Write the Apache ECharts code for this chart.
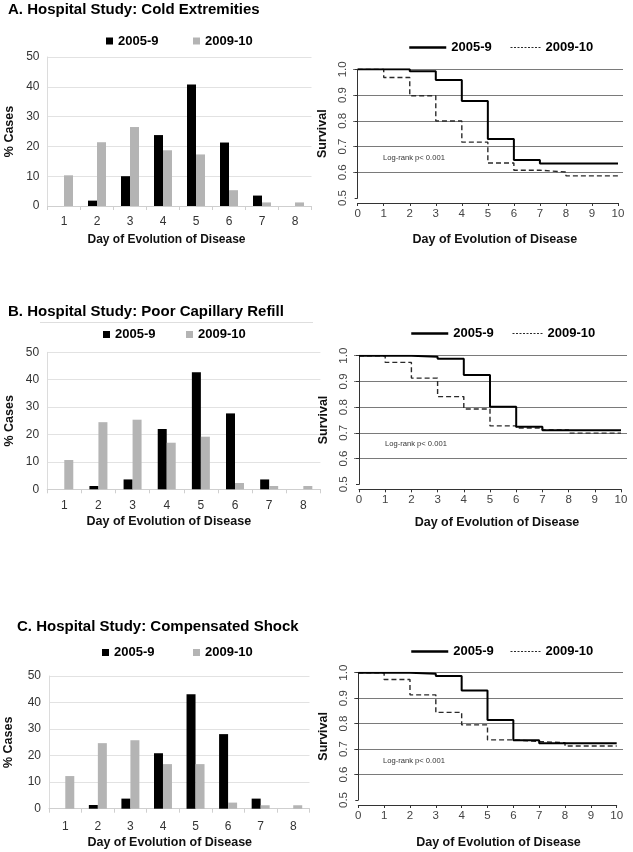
<!DOCTYPE html>
<html>
<head>
<meta charset="utf-8">
<script src="https://cdn.jsdelivr.net/npm/echarts@6/dist/echarts.min.js"></script>
<style>
  html, body { margin: 0; padding: 0; background: #fff; }
  #main { width: 633px; height: 852px; }
</style>
</head>
<body>
<div id="main"></div>
<script>
// bar charts: % cases per day of evolution
const days = ['1', '2', '3', '4', '5', '6', '7', '8']
const coldOld = [0, 1.8, 10.0, 23.8, 40.8, 21.3, 3.5, 0]
const coldNew = [10.3, 21.4, 26.5, 18.7, 17.3, 5.3, 1.2, 1.2]
const capOld = [0, 1.2, 3.6, 22.0, 42.7, 27.7, 3.6, 0]
const capNew = [10.7, 24.5, 25.4, 17.0, 19.2, 2.3, 1.2, 1.2]
const shockOld = [0, 1.4, 3.8, 20.9, 43.1, 28.1, 3.8, 0]
const shockNew = [12.3, 24.7, 25.8, 16.8, 16.8, 2.3, 1.3, 1.3]

// survival curves: value on each day interval [d, d+1), d = 0..9
const survDays = [0, 1, 2, 3, 4, 5, 6, 7, 8, 9, 10]
const survColdOld = [1.0, 1.0, 0.992, 0.958, 0.877, 0.729, 0.648, 0.634, 0.634, 0.634]
const survColdNew = [1.0, 0.968, 0.897, 0.799, 0.717, 0.636, 0.608, 0.601, 0.586, 0.586]
const survCapOld = [1.0, 1.0, 0.996, 0.988, 0.925, 0.802, 0.724, 0.710, 0.710, 0.710]
const survCapNew = [1.0, 0.974, 0.913, 0.841, 0.793, 0.727, 0.719, 0.711, 0.699, 0.699]
const survShockOld = [1.0, 1.0, 0.996, 0.987, 0.930, 0.814, 0.735, 0.723, 0.723, 0.723]
const survShockNew = [1.0, 0.973, 0.913, 0.844, 0.795, 0.736, 0.730, 0.725, 0.712, 0.712]

const titles = ['A. Hospital Study: Cold Extremities', 'B. Hospital Study: Poor Capillary Refill', 'C. Hospital Study: Compensated Shock']
const logRank = 'Log-rank p< 0.001'

const FONT = '"Liberation Sans", Arial, sans-serif'

// layout of each row (page pixels)
const rows = [
  {
    key: 'A', old: coldOld, neu: coldNew, sOld: survColdOld, sNew: survColdNew,
    title: [8, 2],
    bar: {left: 47.5, top: 57, width: 264, height: 149}, barLabelMargin: 9.5, barNameGap: 27.5, barNameShift: 26, barYGap: 31, barNameSize: 12,
    barLegend: [[106, 34.5], [193, 34.5]],
    surv: {left: 357.7, top: 69.3, width: 260.3, height: 128.7}, survLines: {left: 353, width: 270}, yOff: 4.7, xNameGap: 30, xNameShift: 14,
    survLegend: [[408, 41], [510, 41]], logRank: [383, 158.5]
  },
  {
    key: 'B', old: capOld, neu: capNew, sOld: survCapOld, sNew: survCapNew,
    title: [8, 304],
    bar: {left: 47.2, top: 352.3, width: 273.2, height: 137}, barLabelMargin: 10.5, barNameGap: 26, barNameShift: 30, barYGap: 31.5, barNameSize: 12.5,
    barLegend: [[103, 328], [186, 328]],
    surv: {left: 359, top: 355.7, width: 262, height: 128.6}, survLines: {left: 354, width: 273}, yOff: 5, xNameGap: 26.5, xNameShift: 14,
    survLegend: [[410, 327], [512, 327]], logRank: [385, 445]
  },
  {
    key: 'C', old: shockOld, neu: shockNew, sOld: survShockOld, sNew: survShockNew,
    title: [17, 619.5],
    bar: {left: 49, top: 676, width: 260.5, height: 132.7}, barLabelMargin: 12, barNameGap: 27, barNameShift: 19, barYGap: 33.5, barNameSize: 12.5,
    barLegend: [[102, 646], [193, 646]],
    surv: {left: 358.3, top: 672.7, width: 258.4, height: 127.3}, survLines: {left: 354, width: 269}, yOff: 4.3, xNameGap: 31, xNameShift: 22,
    survLegend: [[410, 645], [510, 645]], logRank: [383, 761.7]
  }
]

function stepPoints (vals) {
  return survDays.map(function (d) {
    return [d, vals[Math.min(d, vals.length - 1)]]
  })
}

const grid = []
const xAxis = []
const yAxis = []
const series = []
const legend = []
const title = []
const graphic = []

rows.forEach(function (r, i) {
  const g = grid.length
  // bar chart grid
  grid.push(r.bar)
  xAxis.push({
    gridIndex: g, type: 'category', data: days,
    axisLine: {lineStyle: {color: '#cfcfcf'}},
    axisTick: {show: true, length: 4, lineStyle: {color: '#cfcfcf'}},
    axisLabel: {fontFamily: FONT, fontSize: 12, color: '#333', margin: r.barLabelMargin},
    name: 'Day of Evolution of Disease', nameLocation: 'middle', nameGap: r.barNameGap,
    nameTextStyle: {fontFamily: FONT, fontSize: r.barNameSize, fontWeight: 'bold', color: '#111', padding: [0, r.barNameShift, 0, 0]}
  })
  yAxis.push({
    gridIndex: g, type: 'value', min: 0, max: 50, interval: 10,
    axisLine: {show: true, lineStyle: {color: '#dcdcdc'}},
    axisTick: {show: false},
    splitLine: {lineStyle: {color: '#e2e2e2'}},
    axisLabel: {fontFamily: FONT, fontSize: 12, color: '#333', margin: 8},
    name: '% Cases', nameLocation: 'middle', nameGap: r.barYGap,
    nameTextStyle: {fontFamily: FONT, fontSize: 12.5, fontWeight: 'bold', color: '#111'}
  })
  series.push({
    name: r.key + ' 2005-9', type: 'bar', xAxisIndex: g, yAxisIndex: g,
    data: r.old, barWidth: 9, barGap: '0%', itemStyle: {color: '#000'}
  })
  series.push({
    name: r.key + ' 2009-10', type: 'bar', xAxisIndex: g, yAxisIndex: g,
    data: r.neu, barWidth: 9, barGap: '0%', itemStyle: {color: '#b4b4b4'}
  })

  // survival chart grid
  const s = grid.length
  grid.push(r.surv)
  xAxis.push({
    gridIndex: s, type: 'value', min: 0, max: 10, interval: 1, offset: 5,
    axisLine: {show: true, lineStyle: {color: '#333'}},
    axisTick: {show: true, length: 3, lineStyle: {color: '#333'}},
    splitLine: {show: false},
    axisLabel: {fontFamily: FONT, fontSize: 11.5, color: '#444', margin: 5},
    name: 'Day of Evolution of Disease', nameLocation: 'middle', nameGap: r.xNameGap,
    nameTextStyle: {fontFamily: FONT, fontSize: 12.5, fontWeight: 'bold', color: '#111', padding: [0, 0, 0, r.xNameShift]}
  })
  yAxis.push({
    gridIndex: s, type: 'value', min: 0.5, max: 1.0, interval: 0.1, offset: r.yOff,
    axisLine: {show: true, lineStyle: {color: '#333'}},
    axisTick: {show: true, length: 3, lineStyle: {color: '#333'}},
    splitLine: {show: false},
    axisLabel: {fontFamily: FONT, fontSize: 11.5, color: '#444', margin: 4, rotate: 90,
      formatter: function (v) { return v.toFixed(1) }},
    name: 'Survival', nameLocation: 'middle', nameGap: 24,
    nameTextStyle: {fontFamily: FONT, fontSize: 12.5, fontWeight: 'bold', color: '#111'}
  })
  series.push({
    name: r.key + ' 2005-9 ', type: 'line', xAxisIndex: s, yAxisIndex: s,
    data: stepPoints(r.sOld), step: 'end', symbol: 'none', z: 4,
    lineStyle: {color: '#000', width: 2}, itemStyle: {color: '#000'}
  })
  series.push({
    name: r.key + ' 2009-10 ', type: 'line', xAxisIndex: s, yAxisIndex: s,
    data: stepPoints(r.sNew), step: 'end', symbol: 'none', z: 3,
    lineStyle: {color: '#2a2a2a', width: 1.4, type: [5, 3]}, itemStyle: {color: '#2a2a2a'}
  })

  // horizontal reference lines, slightly wider than the 0-10 range
  const h = grid.length
  grid.push({left: r.survLines.left, top: r.surv.top, width: r.survLines.width, height: r.surv.height})
  xAxis.push({gridIndex: h, type: 'value', min: 0, max: 1, show: false})
  yAxis.push({
    gridIndex: h, type: 'value', min: 0.5, max: 1.0, interval: 0.1,
    axisLine: {show: false}, axisTick: {show: false}, axisLabel: {show: false},
    splitLine: {show: true, showMinLine: false, lineStyle: {color: '#7a7a7a', width: 1}}
  })

  // legends
  const legText = {fontFamily: FONT, fontSize: 13, fontWeight: 'bold', color: '#000'}
  const strip = function (n) { return n.trim().slice(2) }
  legend.push({left: r.barLegend[0][0], top: r.barLegend[0][1], padding: 0, icon: 'rect', itemWidth: 7, itemHeight: 7,
    data: [r.key + ' 2005-9'], formatter: strip, textStyle: legText, selectedMode: false})
  legend.push({left: r.barLegend[1][0], top: r.barLegend[1][1], padding: 0, icon: 'rect', itemWidth: 7, itemHeight: 7,
    data: [r.key + ' 2009-10'], formatter: strip, textStyle: legText, selectedMode: false})
  legend.push({left: r.survLegend[0][0], top: r.survLegend[0][1], padding: 0, itemWidth: 37, itemHeight: 12,
    data: [r.key + ' 2005-9 '], formatter: strip, textStyle: legText, selectedMode: false,
    itemStyle: {opacity: 0}, lineStyle: {width: 2.5, type: 'solid', opacity: 1}})
  legend.push({left: r.survLegend[1][0], top: r.survLegend[1][1], padding: 0, itemWidth: 30, itemHeight: 12,
    data: [r.key + ' 2009-10 '], formatter: strip, textStyle: legText, selectedMode: false,
    itemStyle: {opacity: 0}, lineStyle: {width: 1, type: [2, 1.5], opacity: 1}})

  title.push({
    text: titles[i], left: r.title[0], top: r.title[1], padding: 0,
    textStyle: {fontFamily: FONT, fontSize: 15, fontWeight: 'bold', color: '#000'}
  })

  graphic.push({
    type: 'text', left: r.logRank[0], top: r.logRank[1] - 5,
    style: {text: logRank, font: '7.6px ' + FONT, fill: '#333'}
  })
})

// faint border line above the second bar chart
graphic.push({type: 'line', shape: {x1: 40, y1: 322.5, x2: 313, y2: 322.5}, style: {stroke: '#dedede', lineWidth: 1}})

const myChart = echarts.init(document.getElementById('main'), null, {renderer: 'canvas'})
myChart.setOption({
  backgroundColor: '#fff',
  animation: false,
  title: title,
  legend: legend,
  grid: grid,
  xAxis: xAxis,
  yAxis: yAxis,
  series: series,
  graphic: graphic
})
</script>
</body>
</html>
